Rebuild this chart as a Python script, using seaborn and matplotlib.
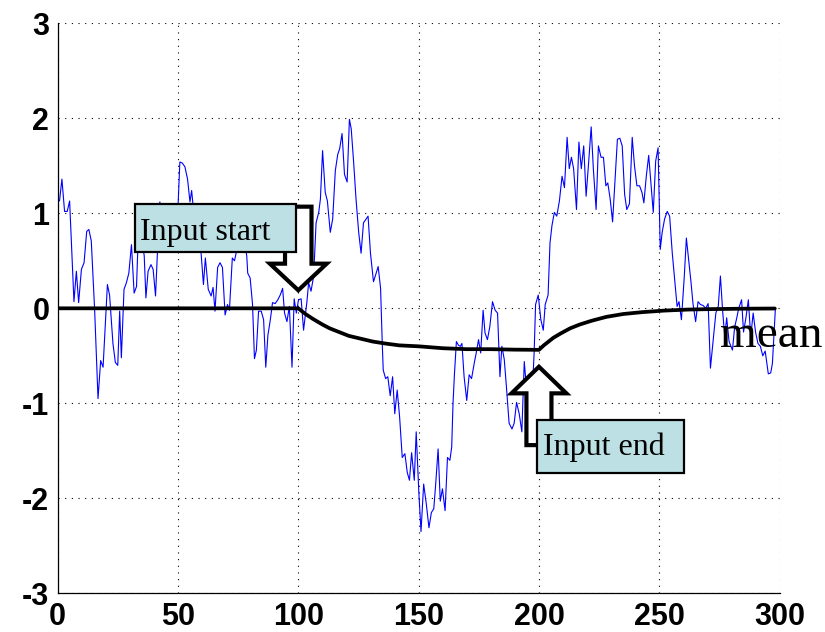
import numpy as np
import pandas as pd
import matplotlib
matplotlib.use("Agg")
import matplotlib.pyplot as plt
from matplotlib.patches import Polygon, Rectangle
import seaborn as sns

# ---- data -------------------------------------------------------------
# noisy response trace (sample index, value)
sample_t = [
    0.8, 1.8, 2.9, 4.0, 5.0, 6.8, 7.8, 8.75, 9.9, 11.0, 12.1, 13.0, 14.0, 15.4,
    16.8, 17.9, 18.9, 20.7, 21.6, 23.0, 24.0, 25.0, 25.8, 26.5, 27.6, 28.6, 29.6,
    30.7, 31.8, 32.8, 33.3, 34.5, 36.0, 36.7, 37.6, 38.8, 39.7, 40.7, 41.5, 42.5,
    44.0, 45.0, 46.0, 47.0, 48.0, 49.0, 50.0, 50.8, 51.8, 52.9, 54.0, 55.0, 55.7,
    57.0, 58.0, 59.6, 60.6, 61.4, 62.6, 63.8, 64.6, 65.4, 66.5, 67.5, 68.5, 69.6,
    70.6, 71.4, 72.6, 73.5, 74.5, 75.5, 76.5, 77.5, 78.6, 79.0, 80.0, 81.0, 81.8,
    82.6, 83.5, 84.6, 85.6, 86.5, 87.4, 88.4, 89.3, 90.4, 91.5, 92.5, 93.5, 94.3,
    95.3, 96.3, 97.4, 98.3, 99.2, 100.1, 101.2, 102.2, 103.6, 104.3, 105.3, 106.4,
    107.4, 108.5, 109.2, 110.1, 111.2, 112.1, 113.3, 114.3, 115.4, 116.4, 117.2,
    118.2, 119.2, 120.3, 121.25, 122.0, 123.0, 124.0, 125.1, 126.1, 127.1, 128.2,
    129.0, 130.0, 131.25, 132.0, 133.2, 134.2, 134.9, 135.3, 136.3, 137.2, 138.2,
    139.2, 140.1, 141.1, 142.1, 143.2, 144.3, 145.3, 146.2, 147.1, 148.2, 149.0,
    150.1, 151.0, 152.1, 153.2, 154.3, 155.3, 156.3, 157.1, 158.1, 159.0, 159.9,
    161.0, 162.0, 163.0, 163.75, 164.3, 164.9, 165.7, 166.6, 167.3, 168.0, 168.9,
    170.0, 171.0, 172.0, 173.1, 174.0, 174.9, 175.8, 176.8, 177.6, 178.6, 179.6,
    180.7, 181.8, 182.8, 183.8, 184.6, 185.6, 186.5, 187.6, 188.8, 189.7, 190.7,
    191.8, 192.9, 193.9, 195.0, 196.0, 197.0, 198.0, 198.6, 199.7, 200.8, 201.8,
    202.6, 203.8, 204.6, 205.4, 206.4, 207.4, 208.5, 209.6, 210.6, 211.7, 212.6,
    213.5, 214.4, 215.6, 216.6, 217.6, 218.6, 219.6, 220.6, 221.7, 222.6, 223.75,
    224.7, 225.8, 226.8, 227.8, 228.6, 229.6, 230.6, 231.7, 232.6, 233.6, 234.6,
    235.6, 236.5, 237.6, 238.75, 239.7, 240.7, 241.8, 242.8, 243.6, 244.6, 245.6,
    246.5, 247.5, 248.5, 249.5, 250.4, 251.2, 252.2, 253.3, 254.3, 255.4, 256.4,
    257.4, 258.2, 259.2, 260.4, 261.25, 262.2, 263.2, 264.0, 265.1, 266.1, 267.1,
    268.2, 269.3, 270.3, 271.25, 272.4, 273.5, 274.5, 275.4, 276.3, 277.2, 278.0,
    279.0, 280.4, 281.3, 282.2, 283.0, 284.2, 285.0, 286.0, 287.0, 288.0, 289.0,
    290.0, 291.0, 292.0, 293.0, 294.0, 295.3, 296.3, 297.0, 298.2,
]
sample_y = [
    1.13, 1.36, 1.02, 1.02, 1.13, 0.07, 0.39, 0.06, 0.41, 0.48, 0.81, 0.83, 0.71, -0.02,
    -0.95, -0.55, -0.62, 0.25, 0.14, -0.37, -0.57, -0.60, -0.03, -0.52, 0.20, 0.27, 0.37,
    0.67, 0.16, 0.23, 0.60, 0.85, 0.55, 0.11, 0.39, 0.46, 0.41, 0.13, 0.60, 1.12,
    0.85, 0.95, 0.75, 0.90, 1.00, 0.80, 1.05, 1.54, 1.53, 1.49, 1.36, 1.12, 1.24,
    0.90, 1.00, 0.59, 0.25, 0.53, 0.20, 0.13, 0.22, -0.03, 0.43, 0.48, 0.43, -0.07,
    0.04, -0.02, 0.53, 0.50, 0.62, 0.80, 0.95, 0.75, 0.55, 0.37, 0.32, 0.04, -0.53,
    -0.44, -0.03, -0.03, -0.12, -0.62, -0.28, -0.12, 0.06, 0.05, 0.09, 0.14, 0.21, -0.05,
    -0.14, 0.02, -0.62, 0.10, -0.05, 0.09, 0.10, -0.23, 0.07, 0.27, 0.18, 0.34,
    0.90, 1.01, 1.15, 1.66, 1.22, 1.13, 0.80, 0.94, 1.45, 1.62, 1.68,
    1.84, 1.41, 1.33, 1.99, 1.89, 1.54, 1.15, 0.80, 0.58, 0.90, 0.94,
    0.97, 0.58, 0.28, 0.34, 0.44, 0.21, -0.37, -0.65, -0.74, -0.72, -0.92,
    -0.72, -1.11, -0.86, -1.14, -1.57, -1.53, -1.73, -1.81, -1.52, -1.81, -1.30,
    -1.94, -2.35, -1.85, -2.06, -2.31, -2.15, -2.11, -1.85, -1.48, -2.03, -1.90,
    -2.13, -1.57, -1.60, -1.46, -1.00, -0.69, -0.35, -0.39, -0.40, -0.37, -0.72,
    -0.97, -0.70, -0.74, -0.58, -0.46, -0.33, -0.47, -0.02, -0.26, -0.33, -0.19,
    0.07, -0.02, -0.05, -0.72, -0.40, -0.54, -0.83, -1.21, -1.27, -1.21, -0.99,
    -1.11, -1.30, -0.56, -0.90, -0.70, -1.00, -0.47, 0.04, 0.14, -0.12, -0.23,
    0.04, 0.14, 0.69, 0.87, 1.01, 0.97, 1.13, 1.39, 1.27, 1.80, 1.47,
    1.59, 1.47, 1.04, 1.75, 1.47, 1.71, 1.18, 1.52, 1.91, 1.47, 1.04,
    1.71, 1.59, 1.59, 1.29, 1.32, 1.15, 0.91, 1.39, 1.78, 1.79, 1.71,
    1.20, 1.04, 1.10, 1.80, 1.50, 1.29, 1.29, 1.22, 1.11, 1.39, 1.61,
    1.32, 1.01, 1.55, 1.69, 0.62, 0.80, 0.94, 1.02, 0.97, 0.58, 0.30,
    0.02, 0.07, -0.12, 0.34, 0.74, 0.51, 0.27, 0.05, -0.14, 0.07, 0.04,
    0.03, 0.00, 0.05, -0.63, -0.33, -0.05, 0.02, 0.34, -0.02, -0.30, -0.10,
    -0.35, -0.44, -0.20, -0.10, 0.00, 0.09, -0.25, -0.10, 0.09, -0.30, -0.05,
    -0.25, -0.37, -0.40, -0.50, -0.45, -0.69, -0.68, -0.58, -0.02,
]

# ensemble mean of the response
mean_t = [0, 100, 103, 106, 110, 113, 117, 121, 126, 131, 136, 142, 150, 160, 170,
          180, 190, 200, 202, 204, 206, 209, 213, 217, 222, 228, 235, 243, 252,
          262, 272, 285, 298]
mean_y = [0.0, 0.0, -0.06, -0.11, -0.17, -0.21, -0.25, -0.29, -0.32, -0.35, -0.37,
          -0.39, -0.40, -0.42, -0.43, -0.43, -0.435, -0.437, -0.39, -0.35, -0.31,
          -0.265, -0.21, -0.17, -0.13, -0.09, -0.06, -0.04, -0.024, -0.013,
          -0.008, -0.004, -0.002]

x_ticks = [0, 50, 100, 150, 200, 250, 300]
y_ticks = [-3, -2, -1, 0, 1, 2, 3]

# ---- style ------------------------------------------------------------
sns.set_style("white")
plt.rcParams["font.family"] = ["Liberation Sans", "DejaVu Sans"]
plt.rcParams["text.color"] = "black"
plt.rcParams["xtick.color"] = "black"
plt.rcParams["ytick.color"] = "black"

fig = plt.figure(figsize=(8.25, 6.32), dpi=100)
ax = fig.add_axes([0.0698, 0.0612, 0.8752, 0.9019])

trace = pd.DataFrame({"t": sample_t, "y": sample_y})
avg = pd.DataFrame({"t": mean_t, "y": mean_y})

sns.lineplot(data=trace, x="t", y="y", ax=ax, color="#0000ff", lw=0.8,
             estimator=None, sort=False, zorder=2)
sns.lineplot(data=avg, x="t", y="y", ax=ax, color="black", lw=2.7,
             estimator=None, sort=False, zorder=3)

ax.set_xlim(0, 300)
ax.set_ylim(-3, 3)
ax.set_xticks(x_ticks)
ax.set_yticks(y_ticks)
ax.set_xticklabels([str(v) for v in x_ticks], fontsize=22, fontweight="bold",
                   color="black")
ax.set_yticklabels([str(v) for v in y_ticks], fontsize=22, fontweight="bold",
                   color="black")
ax.set_xlabel("")
ax.set_ylabel("")
ax.tick_params(direction="in", length=4, width=0.8, colors="black", pad=6)

ax.grid(True, color="black", lw=0.8, linestyle=(0, (1, 5)))
ax.set_axisbelow(True)
for side in ("top", "right"):
    ax.spines[side].set_visible(False)
for side in ("left", "bottom"):
    ax.spines[side].set_color("black")
    ax.spines[side].set_linewidth(0.9)

# ---- annotations ------------------------------------------------------
box_face = "#bce0e3"
serif = ["Liberation Serif", "DejaVu Serif"]


def block_arrow(tip_x, tip_y, tail_y, head_len, head_half, shaft_half):
    """White block arrow whose tip sits at (tip_x, tip_y) and tail at tail_y."""
    sgn = 1 if tail_y > tip_y else -1
    base = tip_y + sgn * head_len
    pts = [
        (tip_x - shaft_half, tail_y), (tip_x + shaft_half, tail_y),
        (tip_x + shaft_half, base), (tip_x + head_half, base),
        (tip_x, tip_y), (tip_x - head_half, base),
        (tip_x - shaft_half, base),
    ]
    ax.add_patch(Polygon(pts, closed=True, facecolor="white", edgecolor="black",
                         lw=3.0, joinstyle="miter", zorder=4, clip_on=False))


def label_box(x0, x1, y0, y1, text, tx, ty):
    ax.add_patch(Rectangle((x0, y0), x1 - x0, y1 - y0, facecolor=box_face,
                           edgecolor="black", lw=1.6, zorder=5, clip_on=False))
    ax.text(tx, ty, text, family=serif, fontsize=23, ha="left",
            va="baseline", color="black", zorder=6)


block_arrow(100.0, 0.19, 1.07, 0.28, 11.8, 5.5)
label_box(32.2, 99.0, 0.593, 1.098, "Input start", 34.2, 0.72)

block_arrow(200.0, -0.615, -1.44, 0.28, 11.4, 5.2)
label_box(199.0, 260.2, -1.734, -1.176, "Input end", 201.8, -1.545)

ax.text(275.2, -0.41, "mean", family=serif, fontsize=34, ha="left",
        va="baseline", color="black", zorder=6, clip_on=False)

fig.savefig("out.png", dpi=100)
